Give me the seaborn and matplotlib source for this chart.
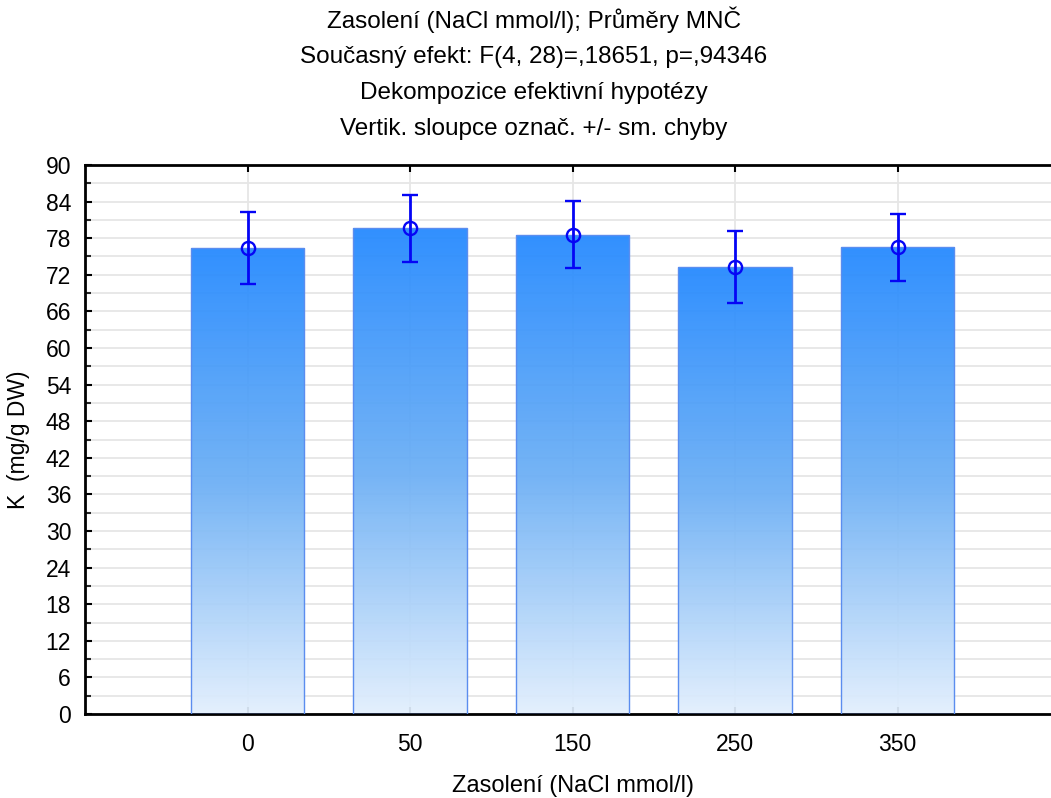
import numpy as np
import pandas as pd
import matplotlib
matplotlib.use("Agg")
import matplotlib.pyplot as plt
import seaborn as sns
from matplotlib.colors import LinearSegmentedColormap
from matplotlib.ticker import MultipleLocator

# hodnoty
kategorie = ["0", "50", "150", "250", "350"]
prumery = [76.4, 79.6, 78.6, 73.2, 76.5]
sm_chyby = [5.95, 5.5, 5.5, 5.9, 5.5]

titulek = ["Zasolení (NaCl mmol/l); Průměry MNČ",
           "Současný efekt: F(4, 28)=,18651, p=,94346",
           "Dekompozice efektivní hypotézy",
           "Vertik. sloupce označ. +/- sm. chyby"]

df = pd.DataFrame({"zasoleni": kategorie, "K": prumery})

sns.set_theme(style="white")
plt.rcParams["font.family"] = ["Liberation Sans", "DejaVu Sans"]
plt.rcParams["text.color"] = "black"
plt.rcParams["axes.labelcolor"] = "black"

fig = plt.figure(figsize=(10.51, 7.98), dpi=100)
ax = fig.add_axes([85 / 1051, 1 - 714 / 798, 975 / 1051, 549 / 798])

sns.barplot(data=df, x="zasoleni", y="K", order=kategorie, width=0.7,
            color="#2288ff", edgecolor="#5b8def", linewidth=1.0, ax=ax, zorder=2)

# gradient ve sloupcich
cmap = LinearSegmentedColormap.from_list("grad", ["#e2effd", "#6aaef5", "#2288ff"])
grad = np.linspace(0, 1, 256).reshape(-1, 1)
for p in ax.patches:
    x0, w, h = p.get_x(), p.get_width(), p.get_height()
    im = ax.imshow(grad, cmap=cmap, origin="lower", aspect="auto",
                   extent=[x0, x0 + w, 0, h], zorder=2, alpha=0.93)
    im.set_clip_path(p)
    p.set_facecolor("none")
    p.set_zorder(3)

stredy = [p.get_x() + p.get_width() / 2 for p in ax.patches]
ax.errorbar(stredy, prumery, yerr=sm_chyby, fmt="o", color="#0505f5",
            mfc="none", mec="#0505f5", ms=9.5, mew=1.7, elinewidth=2.0,
            capsize=5.8, capthick=2.0, zorder=4)

ax.set_xlim(-1, 5)
ax.set_ylim(0, 90)
ax.yaxis.set_major_locator(MultipleLocator(6))
ax.yaxis.set_minor_locator(MultipleLocator(3))
ax.grid(True, which="both", axis="y", color="#e6e6e6", linewidth=1.3, zorder=0)
ax.grid(True, which="major", axis="x", color="#e6e6e6", linewidth=1.3, zorder=0)
ax.set_axisbelow(True)

for s in ax.spines.values():
    s.set_color("black")
    s.set_linewidth(2.0)

ax.tick_params(axis="y", which="major", direction="in", length=5, width=1.5,
               labelsize=16.5, pad=10, left=True, colors="black")
ax.tick_params(axis="y", which="minor", direction="in", length=4, width=1.5, left=True)
ax.tick_params(axis="x", which="major", direction="in", length=5, width=1.5,
               labelsize=16.5, pad=14, bottom=True, top=True, colors="black")

ax.set_xlabel("Zasolení (NaCl mmol/l)", fontsize=17)
ax.set_ylabel("K  (mg/g DW)", fontsize=16.5)
ax.xaxis.set_label_coords(0.5, -0.112)
ax.yaxis.set_label_coords(-0.056, 0.5)

for i, t in enumerate(titulek):
    fig.text(0.508, 1 - (20 + 36.5 * i) / 798, t, ha="center", va="center", fontsize=17.5)

fig.savefig("out.png", dpi=100)
